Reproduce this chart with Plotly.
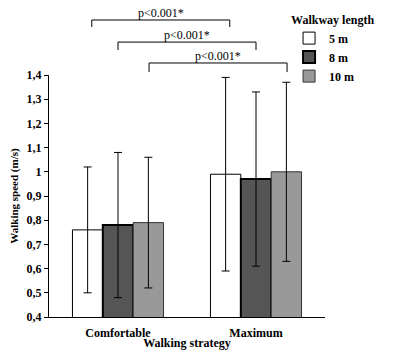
import plotly.graph_objects as go

categories = ["Comfortable", "Maximum"]
series_names = ["5 m", "8 m", "10 m"]
means_5m = [0.76, 0.99]
means_8m = [0.78, 0.97]
means_10m = [0.79, 1.00]
sd_5m = [0.26, 0.40]
sd_8m = [0.30, 0.36]
sd_10m = [0.27, 0.37]
y_tickvals = [0.4, 0.5, 0.6, 0.7, 0.8, 0.9, 1.0, 1.1, 1.2, 1.3, 1.4]
y_ticktext = ["0,4", "0,5", "0,6", "0,7", "0,8", "0,9", "1", "1,1", "1,2", "1,3", "1,4"]
sig_labels = ["p<0.001*", "p<0.001*", "p<0.001*"]

FONT = "Liberation Serif"
fills = ["#ffffff", "#555555", "#999999"]
lines = [("#000000", 1), ("#000000", 2), ("#333333", 1)]
means = [means_5m, means_8m, means_10m]
sds = [sd_5m, sd_8m, sd_10m]
xpos = list(range(len(categories)))

fig = go.Figure()
for name, m, s, fc, (lc, lw) in zip(series_names, means, sds, fills, lines):
    fig.add_trace(go.Bar(
        x=xpos, y=m, name=name,
        marker=dict(color=fc, line=dict(color=lc, width=lw)),
        error_y=dict(type="data", array=s, visible=True, color="#000000",
                     thickness=1, width=4),
    ))

# significance brackets (x in data units, y in paper units)
brackets = [(-0.19, 0.81, 1.2273, 1.1983),
            (0.0, 1.0, 1.136, 1.103),
            (0.225, 1.225, 1.0496, 1.012)]
shapes = []
annotations = []
for (x0, x1, yt, yb), lab in zip(brackets, sig_labels):
    for sx0, sy0, sx1, sy1 in [(x0, yt, x1, yt), (x0, yt, x0, yb), (x1, yt, x1, yb)]:
        shapes.append(dict(type="line", xref="x", yref="paper", x0=sx0, y0=sy0,
                           x1=sx1, y1=sy1, line=dict(color="#000000", width=1)))
    annotations.append(dict(x=(x0 + x1) / 2, y=yt, xref="x", yref="paper",
                            text=lab, showarrow=False, yanchor="bottom", yshift=-1,
                            borderpad=0,
                            font=dict(family=FONT, size=12, color="#000000")))

fig.update_layout(
    width=385, height=342,
    margin=dict(l=41, r=68, t=67, b=33, autoexpand=False),
    paper_bgcolor="#ffffff", plot_bgcolor="#ffffff",
    barmode="group", bargap=0.34, bargroupgap=0,
    font=dict(family=FONT, size=12, color="#000000"),
    shapes=shapes, annotations=annotations,
    showlegend=True,
    legend=dict(xref="container", yref="container", x=0.73, y=1.0,
                xanchor="left", yanchor="top",
                title=dict(text="<b>Walkway length</b>", font=dict(family=FONT, size=12)),
                font=dict(family=FONT, size=12, weight="bold"),
                bgcolor="rgba(0,0,0,0)", tracegroupgap=0),
    xaxis=dict(range=[-0.5, 1.5], tickvals=xpos, ticktext=categories,
               showline=True, linecolor="#000000", linewidth=1, ticks="",
               showgrid=False, zeroline=False, automargin=False,
               ticklabelstandoff=5,
               tickfont=dict(family=FONT, size=12, weight="bold"),
               title=dict(text="<b>Walking strategy</b>", standoff=8,
                          font=dict(family=FONT, size=12))),
    yaxis=dict(range=[0.4, 1.4], tickvals=y_tickvals, ticktext=y_ticktext,
               showline=True, linecolor="#000000", linewidth=1,
               ticks="outside", ticklen=4, tickcolor="#000000",
               showgrid=False, zeroline=False, automargin=False,
               tickfont=dict(family=FONT, size=12, weight="bold"),
               title=dict(text="<b>Walking speed (m/s)</b>", standoff=24,
                          font=dict(family=FONT, size=11))),
)

fig.write_html("out.html")
